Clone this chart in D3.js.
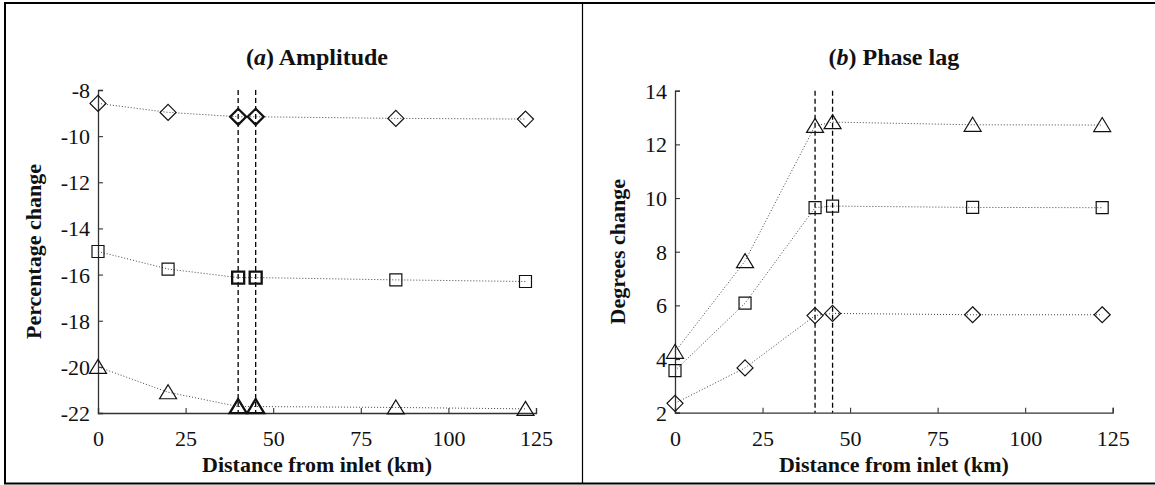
<!DOCTYPE html>
<html>
  <head>
    <meta charset="utf-8">
    <title>Amplitude and phase lag</title>
    <style>
      body { margin: 0; background: #fff; }
      svg text { font-family: "Liberation Serif", "DejaVu Serif", serif; fill: #111; }
    </style>
  </head>
  <body>
    <script src="https://d3js.org/d3.v7.min.js"></script>
    <svg id="fig" width="1155" height="485"></svg>
    <script>
      // distance from inlet (km) of each station
      const distance = [0, 20, 40, 45, 85, 122]
      // stations marked with dashed lines
      const markedSites = [40, 45]

      // (a) amplitude, percentage change
      const ampDiamond  = [-8.58, -8.97, -9.16, -9.16, -9.23, -9.26]
      const ampSquare   = [-15.0, -15.76, -16.13, -16.13, -16.23, -16.3]
      const ampTriangle = [-20.0, -21.1, -21.72, -21.72, -21.76, -21.82]

      // (b) phase lag, degrees change
      const phaseTriangle = [4.27, 7.65, 12.69, 12.83, 12.73, 12.72]
      const phaseSquare   = [3.57, 6.08, 9.64, 9.70, 9.65, 9.64]
      const phaseDiamond  = [2.35, 3.67, 5.62, 5.70, 5.65, 5.65]

      const xTicks = [0, 25, 50, 75, 100, 125]
      const ampTicks = [-22, -20, -18, -16, -14, -12, -10, -8]
      const phaseTicks = [2, 4, 6, 8, 10, 12, 14]

      const svg = d3.select('#fig')

      // outer frame and divider
      svg.append('path')
        .attr('d', 'M1155,3H5V483.5H1155')
        .style('fill', 'none').style('stroke', '#000').style('stroke-width', 2)
      svg.append('line')
        .attr('x1', 582.5).attr('x2', 582.5).attr('y1', 3).attr('y2', 483)
        .style('stroke', '#000').style('stroke-width', 1.2)

      // marker shapes, drawn around a centre point
      const shapes = {
        diamond: (x, y) => `M${x},${y - 8}L${x + 8},${y}L${x},${y + 8}L${x - 8},${y}Z`,
        square: (x, y) => `M${x - 6},${y - 6}h12v12h-12Z`,
        triangle: (x, y) => `M${x},${y - 7.5}L${x + 8.5},${y + 6.5}L${x - 8.5},${y + 6.5}Z`
      }

      // plain hyphen for negatives, like the original
      const plain = d => String(d)

      function panel(opts) {
        const x = d3.scaleLinear([0, 125], opts.xRange)
        const y = d3.scaleLinear(opts.yDomain, opts.yRange)
        const g = svg.append('g')

        // axes (ticks inside, like the original)
        const xAxis = d3.axisBottom(x).tickValues(xTicks).tickFormat(plain)
          .tickSizeInner(-5).tickSizeOuter(-5).tickPadding(12)
        const yAxis = d3.axisLeft(y).tickValues(opts.yTicks).tickFormat(plain)
          .tickSizeInner(-5).tickSizeOuter(-5).tickPadding(12)

        const gx = g.append('g')
          .attr('transform', `translate(0,${opts.yRange[0]})`)
          .call(xAxis)
        const gy = g.append('g')
          .attr('transform', `translate(${opts.xRange[0]},0)`)
          .call(yAxis)
        ;[gx, gy].forEach(a => {
          a.attr('font-family', null).attr('font-size', null)
          a.selectAll('.domain').style('stroke', '#333').style('stroke-width', 1.3)
          a.selectAll('.tick line').style('stroke', '#333').style('stroke-width', 1.1)
          a.selectAll('.tick text')
            .style('font-family', '"Liberation Serif", serif')
            .style('font-size', '22px').style('fill', '#111')
        })
        gx.selectAll('.tick text').attr('dy', '0.95em')
        gy.selectAll('.tick text').attr('dy', '0.34em').attr('x', -8)

        // dashed station lines
        g.selectAll('line.site')
          .data(markedSites)
          .join('line')
            .attr('class', 'site')
            .attr('x1', d => x(d)).attr('x2', d => x(d))
            .attr('y1', opts.yRange[1]).attr('y2', opts.yRange[0])
            .style('stroke', '#000').style('stroke-width', 1.3)
            .style('stroke-dasharray', '5,3')

        const line = d3.line()
          .x((d, i) => x(distance[i]))
          .y(d => y(d))

        opts.series.forEach(s => {
          g.append('path')
            .attr('d', line(s.values))
            .style('fill', 'none').style('stroke', '#444')
            .style('stroke-width', 1).style('stroke-dasharray', '1,2')

          g.selectAll(null)
            .data(s.values)
            .join('path')
              .attr('d', (d, i) => shapes[s.shape](x(distance[i]), y(d)))
              .style('fill', 'none').style('stroke', '#111')
              .style('stroke-width', (d, i) =>
                opts.boldSites && markedSites.includes(distance[i]) ? 2.3 : 1.2)
        })

        // title
        const cx = (opts.xRange[0] + opts.xRange[1]) / 2
        const t = g.append('text')
          .attr('x', cx).attr('y', 65)
          .attr('text-anchor', 'middle')
          .style('font-size', '24px').style('font-weight', 'bold')
        t.append('tspan').text('(')
        t.append('tspan').style('font-style', 'italic').text(opts.letter)
        t.append('tspan').text(') ' + opts.title)

        // axis labels
        g.append('text')
          .attr('x', cx).attr('y', 472)
          .attr('text-anchor', 'middle')
          .style('font-size', '22px').style('font-weight', 'bold')
          .text('Distance from inlet (km)')
        g.append('text')
          .attr('transform', `translate(${opts.yLabelX},${(opts.yRange[0] + opts.yRange[1]) / 2}) rotate(-90)`)
          .attr('text-anchor', 'middle')
          .style('font-size', '22px').style('font-weight', 'bold')
          .text(opts.yLabel)
      }

      panel({
        letter: 'a', title: 'Amplitude', yLabel: 'Percentage change',
        xRange: [98, 536], yRange: [413, 90], yDomain: [-22, -8], yTicks: ampTicks,
        yLabelX: 41, boldSites: true,
        series: [
          { shape: 'diamond', values: ampDiamond },
          { shape: 'square', values: ampSquare },
          { shape: 'triangle', values: ampTriangle }
        ]
      })

      panel({
        letter: 'b', title: 'Phase lag', yLabel: 'Degrees change',
        xRange: [675, 1112.7], yRange: [412.7, 90.7], yDomain: [2, 14], yTicks: phaseTicks,
        yLabelX: 625, boldSites: false,
        series: [
          { shape: 'triangle', values: phaseTriangle },
          { shape: 'square', values: phaseSquare },
          { shape: 'diamond', values: phaseDiamond }
        ]
      })
    </script>
  </body>
</html>
